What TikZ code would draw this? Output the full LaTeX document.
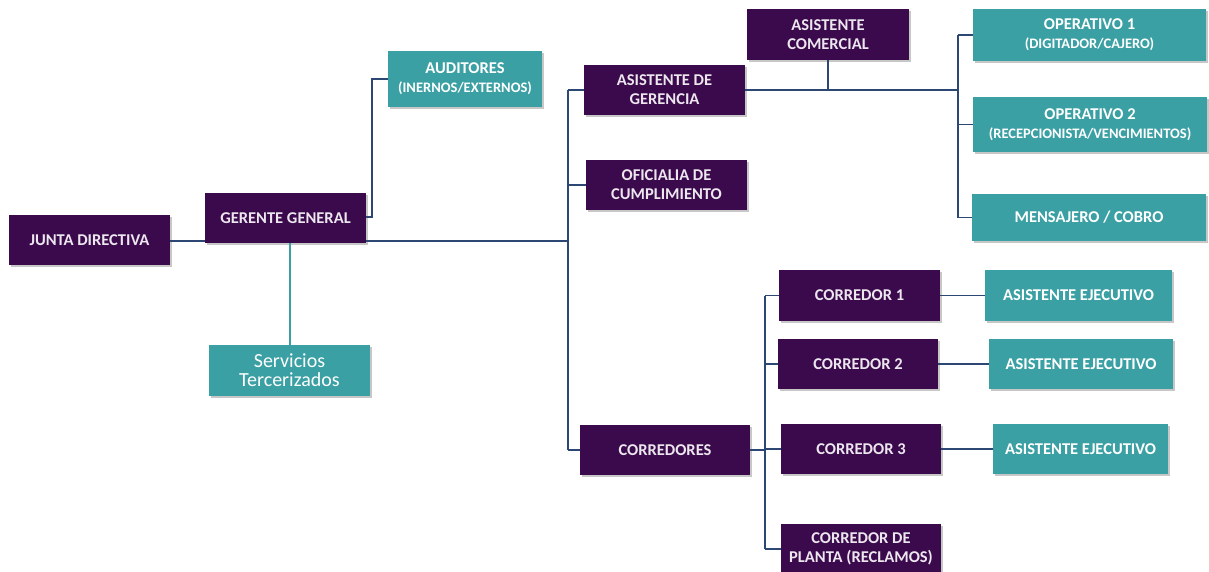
\documentclass[tikz,border=0pt]{standalone}
\usepackage{fontspec}
\setmainfont{Carlito}
\definecolor{purp}{HTML}{3B0A4C}
\definecolor{teal2}{HTML}{3AA0A4}
\definecolor{lin}{HTML}{2D4775}
\definecolor{txtp}{HTML}{ECE6EE}
\begin{document}
\begin{tikzpicture}[x=1pt,y=-1pt,
  pbox/.style={fill=purp,text=txtp,font=\bfseries\fontsize{16.5}{19}\selectfont,align=center,inner sep=0pt},
  tbox/.style={fill=teal2,text=white,font=\bfseries\fontsize{16.5}{19}\selectfont,align=center,inner sep=0pt},
  conn/.style={draw=lin,line width=1.4pt}]
\useasboundingbox (0,0) rectangle (1209,571);
% helper macro for boxes: style, name, x1,y1,x2,y2, text
\newcommand{\mybox}[7]{%
  \fill[black!22] (#3+2,#4+2) rectangle (#5+2,#6+2);
  \node[#1,minimum width=#5-#3,minimum height=#6-#4] (#2) at ({(#3+#5)/2},{(#4+#6)/2}) {#7};}
\newcommand{\subt}[1]{{\fontsize{14.5}{16}\selectfont #1}}
\mybox{pbox}{jd}{9}{215}{170}{265}{JUNTA DIRECTIVA}
\mybox{pbox}{gg}{205}{193}{366}{243}{GERENTE GENERAL}
\mybox{tbox}{st}{209}{345}{370}{396}{\mdseries\fontsize{20}{22}\selectfont Servicios\\\mdseries\fontsize{20}{22}\selectfont Tercerizados}
\mybox{tbox}{aud}{388}{51}{542}{107}{AUDITORES\\\subt{(INERNOS/EXTERNOS)}}
\mybox{pbox}{ag}{584}{65}{745}{115}{ASISTENTE DE\\GERENCIA}
\mybox{pbox}{ac}{747}{9}{909}{60}{ASISTENTE\\COMERCIAL}
\mybox{pbox}{oc}{586}{160}{747}{210}{OFICIALIA DE\\CUMPLIMIENTO}
\mybox{pbox}{cs}{580}{425}{750}{475}{CORREDORES}
\mybox{tbox}{op1}{973}{9}{1206}{61}{OPERATIVO 1\\\subt{(DIGITADOR/CAJERO)}}
\mybox{tbox}{op2}{973}{97}{1207}{152}{OPERATIVO 2\\\subt{(RECEPCIONISTA/VENCIMIENTOS)}}
\mybox{tbox}{men}{972}{194}{1206}{241}{MENSAJERO / COBRO}
\mybox{pbox}{c1}{779}{270}{940}{321}{CORREDOR 1}
\mybox{pbox}{c2}{778}{339}{938}{389}{CORREDOR 2}
\mybox{pbox}{c3}{781}{424}{941}{474}{CORREDOR 3}
\mybox{pbox}{cp}{781}{524}{941}{574}{CORREDOR DE\\PLANTA (RECLAMOS)}
\mybox{tbox}{ae1}{985}{270}{1172}{321}{ASISTENTE EJECUTIVO}
\mybox{tbox}{ae2}{989}{339}{1173}{389}{ASISTENTE EJECUTIVO}
\mybox{tbox}{ae3}{993}{424}{1168}{474}{ASISTENTE EJECUTIVO}
% junction coordinates
\coordinate (t1) at (568,241);
\coordinate (t2) at (958,90);
\coordinate (t3) at (765,450);
% connectors
\draw[conn] (jd.east |- 0,241) -- (gg.south west |- 0,241);
\draw[conn] (gg.south east |- 0,241) -- (t1);
\draw[conn] (gg.east |- 0,217) -- (372,217) |- (aud.west);
\draw[conn,draw=teal2] (gg.south -| 290,0) -- (st.north -| 290,0);
\draw[conn] (568,90) -- (568,450);
\draw[conn] (568,90) -- (ag.west);
\draw[conn] (568,185) -- (oc.west);
\draw[conn] (568,450) -- (cs.west);
\draw[conn] (ag.east) -- (t2);
\draw[conn] (ac.south) -- (828,90);
\draw[conn] (958,35) -- (958,217.5);
\draw[conn] (958,35) -- (op1.west);
\draw[conn] (958,124.5) -- (op2.west);
\draw[conn] (958,217.5) -- (men.west);
\draw[conn] (cs.east) -- (t3);
\draw[conn] (765,295.5) -- (765,549);
\draw[conn] (765,295.5) -- (c1.west);
\draw[conn] (765,364) -- (c2.west);
\draw[conn] (765,449) -- (c3.west);
\draw[conn] (765,549) -- (cp.west);
\draw[conn] (c1.east) -- (ae1.west);
\draw[conn] (c2.east) -- (ae2.west);
\draw[conn] (c3.east) -- (ae3.west);
\end{tikzpicture}
\end{document}
